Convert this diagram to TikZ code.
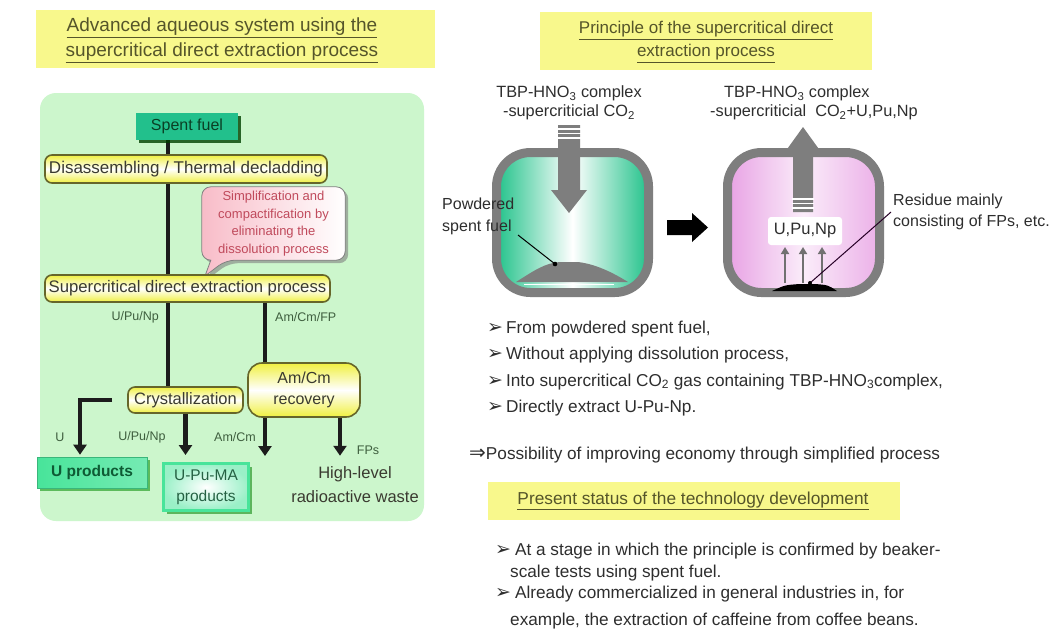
\documentclass[tikz,border=0pt]{standalone}
\usepackage{fontspec}
\setmainfont{Liberation Sans}
\newfontfamily\symfont{DejaVu Sans}
\usetikzlibrary{arrows.meta,shadows}
\pgfdeclarelayer{bg}
\pgfdeclarelayer{links}
\pgfsetlayers{bg,links,main}

\definecolor{titleyellow}{HTML}{F8F88C}
\definecolor{titletext}{HTML}{55552A}
\definecolor{panelgreen}{HTML}{CCF6CC}
\definecolor{boxyellow}{HTML}{F0F040}
\definecolor{boxedge}{HTML}{66662A}
\definecolor{flowtext}{HTML}{3A3A30}
\definecolor{tealfuel}{HTML}{22C08C}
\definecolor{prodgreen}{HTML}{48E49A}
\definecolor{prodtext}{HTML}{0E5A34}
\definecolor{notepink}{HTML}{F8BCC8}
\definecolor{notetext}{HTML}{C04A5C}
\definecolor{labelgreen}{HTML}{3E5E3E}
\definecolor{vesselgray}{HTML}{7E7E7E}
\definecolor{vgreen}{HTML}{22C28A}
\definecolor{vpink}{HTML}{E8A2E4}
\definecolor{bodytext}{HTML}{2E2E2E}
\definecolor{linkdark}{HTML}{1C1C1C}

\newcommand\fsz[2]{\fontsize{#1}{#2}\selectfont}
\newcommand\bul{{\symfont\fontsize{19}{19}\selectfont ➢}\hspace{3pt}}

\begin{document}
\begin{tikzpicture}[x=1pt,y=-1pt,
  titlebox/.style={fill=titleyellow, draw=none, inner sep=0pt},
  titletxt/.style={text=titletext, align=center, inner sep=0pt},
  flowbox/.style={draw=boxedge, line width=1.6pt, rounded corners=7pt,
    top color=boxyellow, bottom color=boxyellow, middle color=white,
    text=flowtext, inner sep=0pt, align=center},
  lbl/.style={text=labelgreen, font=\fsz{12.5}{14}, inner sep=0pt},
  trunk/.style={draw=linkdark, line width=4.5pt},
  flowarrow/.style={draw=linkdark, line width=4.5pt,
    -{Triangle[width=13pt,length=10pt]}},
  vessel/.style={draw=vesselgray, line width=9pt, rounded corners=34pt,
    minimum width=152pt, minimum height=140pt, inner sep=0pt},
  smallarrow/.style={draw=vesselgray!90!black, line width=2.2pt,
    -{Triangle[width=8pt,length=7pt]}},
  body/.style={text=bodytext, font=\fsz{17.2}{20}, inner sep=0pt, anchor=base west},
]
\useasboundingbox (0,0) rectangle (1056,633);

\begin{pgfonlayer}{bg}
  \fill[white] (0,0) rectangle (1056,633);
  \fill[panelgreen, rounded corners=16pt] (40,93) rectangle (424,521);
\end{pgfonlayer}

% ---------- section titles ----------
\node[titlebox, minimum width=399pt, minimum height=58pt] (ttlL) at (235.5,39) {};
\node[titletxt, font=\fsz{19}{25}] (ttlLtxt) at (222,40)
  {\underline{Advanced aqueous system using the}\\\underline{supercritical direct extraction process}};
\node[titlebox, minimum width=332pt, minimum height=58pt] (ttlR) at (706,41) {};
\node[titletxt, font=\fsz{17}{23}] (ttlRtxt) at (706,42)
  {\underline{Principle of the supercritical direct}\\\underline{extraction process}};

% ---------- process flow ----------
\node[fill=tealfuel, text=prodtext!70!black, font=\fsz{16}{18}, inner sep=0pt,
  minimum width=102pt, minimum height=27pt,
  drop shadow={shadow xshift=3pt, shadow yshift=-3pt, fill=black!75!green, opacity=0.8}]
  (spent) at (187,126.5) {Spent fuel};
\node[flowbox, font=\fsz{17}{20}, minimum width=282pt, minimum height=28pt]
  (disas) at (186,169) {Disassembling / Thermal decladding};
\node[flowbox, font=\fsz{16.7}{20}, minimum width=285pt, minimum height=27pt]
  (sup) at (187.5,288.5) {Supercritical direct extraction process};
\node[flowbox, font=\fsz{16.5}{20}, minimum width=115pt, minimum height=26pt]
  (cryst) at (185.5,400) {Crystallization};
\node[flowbox, rounded corners=14pt, font=\fsz{16}{21}, minimum width=112pt, minimum height=54pt]
  (amcm) at (304,390) {Am/Cm\\recovery};
\node[draw=prodgreen!80!black, line width=0.6pt, left color=prodgreen, right color=prodgreen!75!white,
  text=prodtext, font=\bfseries\fsz{15.5}{18}, inner sep=0pt,
  minimum width=110pt, minimum height=31pt,
  drop shadow={shadow xshift=3pt, shadow yshift=-3pt, fill=black!45!green, opacity=0.55}]
  (uprod) at (92,472.5) {U products};
\node[draw=prodgreen, line width=3pt, inner color=white, outer color=prodgreen!55!white,
  text=prodtext!80!gray, font=\fsz{15.5}{21},
  inner sep=0pt, align=center, minimum width=85pt, minimum height=47pt,
  drop shadow={shadow xshift=3pt, shadow yshift=-3pt, fill=black!50!green, opacity=0.55}]
  (upuma) at (206,487) {U-Pu-MA\\products};
\node[text=flowtext, font=\fsz{16.5}{24}, align=center, inner sep=0pt]
  (waste) at (355,485) {High-level\\radioactive waste};

% callout text and its balloon
\node[text=notetext, font=\fsz{13}{17.5}, align=center, inner sep=0pt,
  minimum width=143pt, minimum height=73pt] (note) at (273.5,223.5)
  {Simplification and\\compactification by\\eliminating the\\dissolution process};
\coordinate (calltip) at (205,276);
\begin{pgfonlayer}{links}
  \path[draw=gray, line width=0.8pt, left color=notepink, right color=white,
    drop shadow={shadow xshift=3pt, shadow yshift=-3pt, fill=gray, opacity=0.6}]
    (note.west) [rounded corners=9pt] -- (note.north west) -- (note.north east)
    -- (note.south east) -- ([xshift=24pt]note.south west) [sharp corners]
    -- (calltip) -- ([xshift=9pt]note.south west) [rounded corners=9pt]
    -- (note.south west) [sharp corners] -- cycle;
\end{pgfonlayer}

% stream labels
\node[lbl, anchor=east] (lbUPN) at (159,317) {U/Pu/Np};
\node[lbl, anchor=west] (lbAmFP) at (275,317) {Am/Cm/FP};
\node[lbl] (lbU) at (60,437) {U};
\node[lbl] (lbUPN2) at (142,437) {U/Pu/Np};
\node[lbl] (lbAmCm) at (235,437) {Am/Cm};
\node[lbl] (lbFP) at (368,450) {FPs};

% connectors
\coordinate (trunkx) at (168,0);
\coordinate (branchx) at (265,0);
\coordinate (amend) at (265,456);
\begin{pgfonlayer}{links}
  \draw[trunk] (spent.south -| trunkx) -- (cryst.north -| trunkx);
  \draw[trunk] (sup.south -| branchx) -- (amcm.north -| branchx);
  \draw[flowarrow, shorten >=2pt] ([xshift=-15pt]cryst.west) -| ([xshift=-12pt]uprod.north);
  \draw[flowarrow, shorten >=7pt] (cryst.south) -- (cryst.south |- upuma.north);
  \draw[flowarrow] (amcm.south -| branchx) -- (amend);
  \draw[flowarrow, shorten >=11pt] ([xshift=36pt]amcm.south) -- ([xshift=36pt]amcm.south |- waste.north);
\end{pgfonlayer}

% ---------- extraction vessels ----------
\node[vessel, left color=vgreen, right color=vgreen, middle color=white] (v1) at (572.5,222.5) {};
\node[vessel, left color=vpink, right color=vpink!85!white, middle color=vpink!20!white] (v2) at (803.5,222.5) {};

% powder heap and feed stream in the first vessel
\fill[vesselgray] (516,282) .. controls (535,270) and (545,263) .. (560,262) -- (578,262)
  .. controls (595,264) and (612,272) .. (628,282) -- cycle;
\draw[white, line width=1.5pt] (524,284.5) -- (614,284.5);
\fill[vesselgray] (558,125) -- (580,125) -- (580,190) -- (587,190) -- (569,213)
  -- (551,190) -- (558,190) -- cycle;
\foreach \yy in {129,133.5,138} \draw[white, line width=1.3pt] (557,\yy) -- (581,\yy);
\draw[black, line width=1pt] (518,235) -- (555,264);
\fill[black] (555,264) circle (2.3);

% transfer arrow
\fill[black] (667,220) -- (692,220) -- (692,213) -- (708,227.5) -- (692,242)
  -- (692,235) -- (667,235) -- cycle;

% second vessel: product stream and residue
\fill[vesselgray] (793,212) -- (813,212) -- (813,152) -- (821,152) -- (803,127)
  -- (785,152) -- (793,152) -- cycle;
\foreach \yy in {199,203.5,208} \draw[white, line width=1.3pt] (792,\yy) -- (814,\yy);
\node[fill=white, rounded corners=3pt, minimum width=74pt, minimum height=28pt, inner sep=0pt,
  text=bodytext, font=\fsz{16.5}{18}] (upunp) at (805,231) {U,Pu,Np};
\foreach \xx in {785,803,822} \draw[smallarrow] (\xx,283) -- (\xx,247);
\fill[black] (772,291) .. controls (785,285) .. (800,284) -- (815,284)
  .. controls (828,285) .. (837,291) -- cycle;
\draw[black!70!violet, line width=1pt] (810,283) -- (891,212);
\fill[black] (810,283) circle (2);

% vessel labels
\node[text=bodytext, font=\fsz{16.3}{18.5}, align=center, inner sep=0pt] (feedlbl) at (569,103)
  {TBP-HNO\textsubscript{3} complex\\-supercriticial CO\textsubscript{2}};
\node[text=bodytext, font=\fsz{16.3}{18.5}, align=left, inner sep=0pt, anchor=west] (prodlbl) at (710,103)
  {\hspace*{14pt}TBP-HNO\textsubscript{3} complex\\-supercriticial\ \ CO\textsubscript{2}+U,Pu,Np};
\node[text=bodytext, font=\fsz{16}{22}, align=left, inner sep=0pt, anchor=west] (powlbl) at (442,216)
  {Powdered\\spent fuel};
\node[text=bodytext, font=\fsz{16}{21}, align=left, inner sep=0pt, anchor=west] (reslbl) at (893,212)
  {Residue mainly\\consisting of FPs, etc.};

% ---------- key points ----------
\node[body] (pt1) at (487,333) {\bul From powdered spent fuel,};
\node[body] (pt2) at (487,359) {\bul Without applying dissolution process,};
\node[body] (pt3) at (487,386) {\bul Into supercritical CO\textsubscript{2} gas containing TBP-HNO\textsubscript{3}complex,};
\node[body] (pt4) at (487,412) {\bul Directly extract U-Pu-Np.};
\node[body] (concl) at (469,459) {{\symfont\fontsize{20}{20}\selectfont ⇒}Possibility of improving economy through simplified process};

\node[titlebox, minimum width=412pt, minimum height=38pt] (ttlS) at (694,501) {};
\node[titletxt, font=\fsz{17.3}{20}] (ttlStxt) at (693,501)
  {\underline{Present status of the technology development}};

\node[body] (st1) at (495,555) {\bul\hspace{1pt}At a stage in which the principle is confirmed by beaker-};
\node[body] (st1b) at (510,577) {scale tests using spent fuel.};
\node[body] (st2) at (495,598) {\bul\hspace{1pt}Already commercialized in general industries in, for};
\node[body] (st2b) at (510,625) {example, the extraction of caffeine from coffee beans.};
\end{tikzpicture}
\end{document}
